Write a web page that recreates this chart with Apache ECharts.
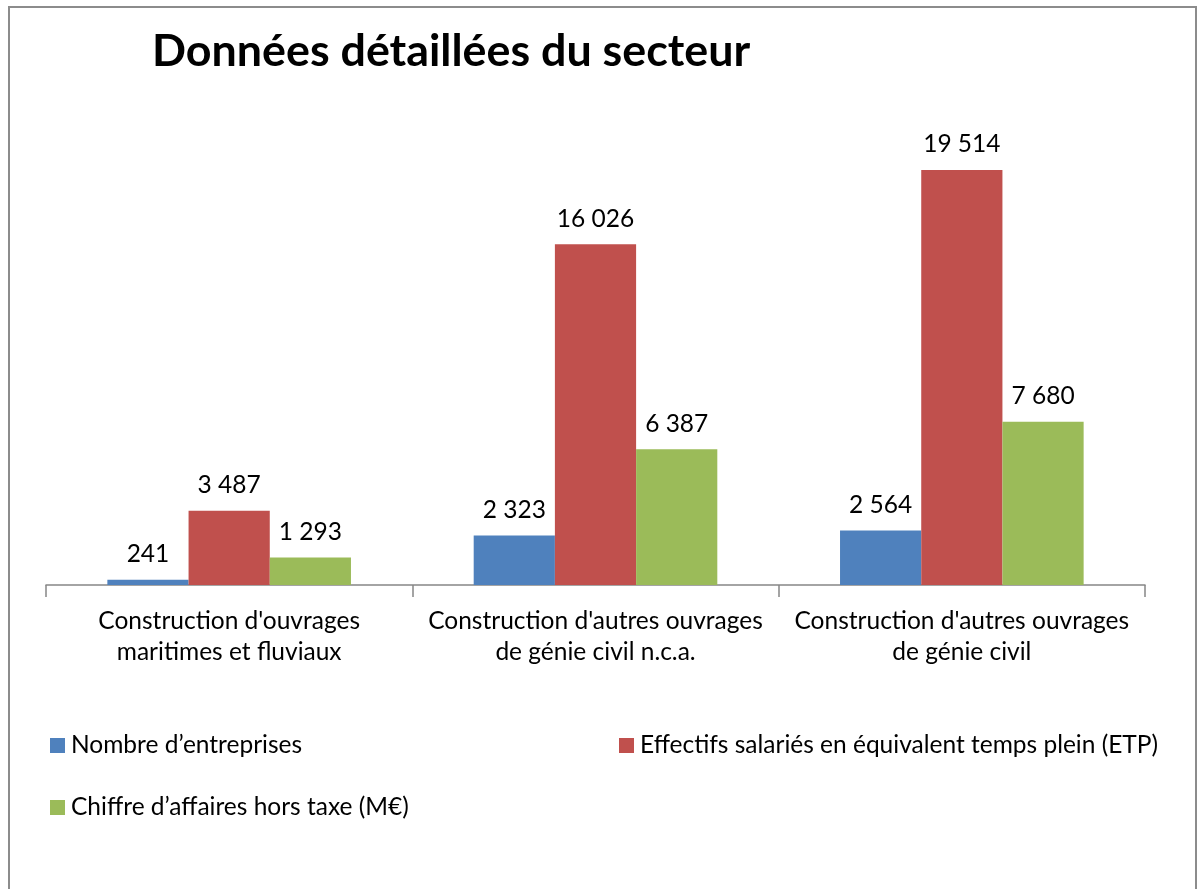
<!DOCTYPE html>
<html><head><meta charset="utf-8">
<script src="https://cdn.jsdelivr.net/npm/echarts@6/dist/echarts.min.js"></script>
<style>html,body{margin:0;padding:0;background:#fff}#c{width:1198px;height:889px}</style>
</head><body><div id="c"></div>
<script>
const categories = ["Construction d'ouvrages\nmaritimes et fluviaux", "Construction d'autres ouvrages\nde génie civil n.c.a.", "Construction d'autres ouvrages\nde génie civil"];
const seriesNames = ["Nombre d\u2019entreprises", "Effectifs salariés en équivalent temps plein (ETP)", "Chiffre d\u2019affaires hors taxe (M\u20ac)"];
const entreprises = [241, 2323, 2564];
const effectifs = [3487, 16026, 19514];
const chiffre = [1293, 6387, 7680];
const colors = ['#4F81BD', '#C0504D', '#9BBB59'];
const FONT = 'Lato';
const FS = 24.5;
const fmt = v => String(v).replace(/\B(?=(\d{3})+(?!\d))/g, ' ');
const chart = echarts.init(document.getElementById('c'), null, {renderer: 'canvas'});
const values = [entreprises, effectifs, chiffre];
chart.setOption({
  animation: false,
  textStyle: {fontFamily: FONT},
  title: {text: 'Données détaillées du secteur', left: 147, top: 24,
    textStyle: {fontFamily: FONT, fontSize: 44.8, fontWeight: 'bold', color: '#000'}},
  graphic: [{type: 'rect', shape: {x: 9, y: 7, width: 1187, height: 920},
    style: {fill: 'none', stroke: '#8c8c8c', lineWidth: 2}, silent: true}],
  legend: [
    {data: [seriesNames[0]], left: 45, top: 728},
    {data: [seriesNames[1]], left: 614, top: 728},
    {data: [seriesNames[2]], left: 45, top: 790}
  ].map(l => Object.assign(l, {itemWidth: 15, itemHeight: 15, itemGap: 6, icon: 'rect',
    textStyle: {fontFamily: FONT, fontSize: FS, color: '#000', padding: [0, 0, 0, 1]}})),
  grid: {left: 46, right: 53, top: 53.3, bottom: 304, containLabel: false},
  xAxis: {type: 'category', data: categories,
    axisLine: {lineStyle: {color: '#868686', width: 1.5}},
    axisTick: {show: true, length: 12, lineStyle: {color: '#868686', width: 1.5}},
    axisLabel: {fontFamily: FONT, fontSize: FS, color: '#000', lineHeight: 31, margin: 21, interval: 0}},
  yAxis: {type: 'value', min: 0, max: 25000, show: false, splitLine: {show: false}},
  series: seriesNames.map((n, i) => ({
    name: n, type: 'bar', data: values[i], barGap: '0%', barCategoryGap: '33.5%',
    itemStyle: {color: colors[i]},
    label: {show: true, position: 'top', distance: 13, formatter: p => fmt(p.value),
      fontFamily: FONT, fontSize: FS, color: '#000'}
  }))
});
</script></body></html>
